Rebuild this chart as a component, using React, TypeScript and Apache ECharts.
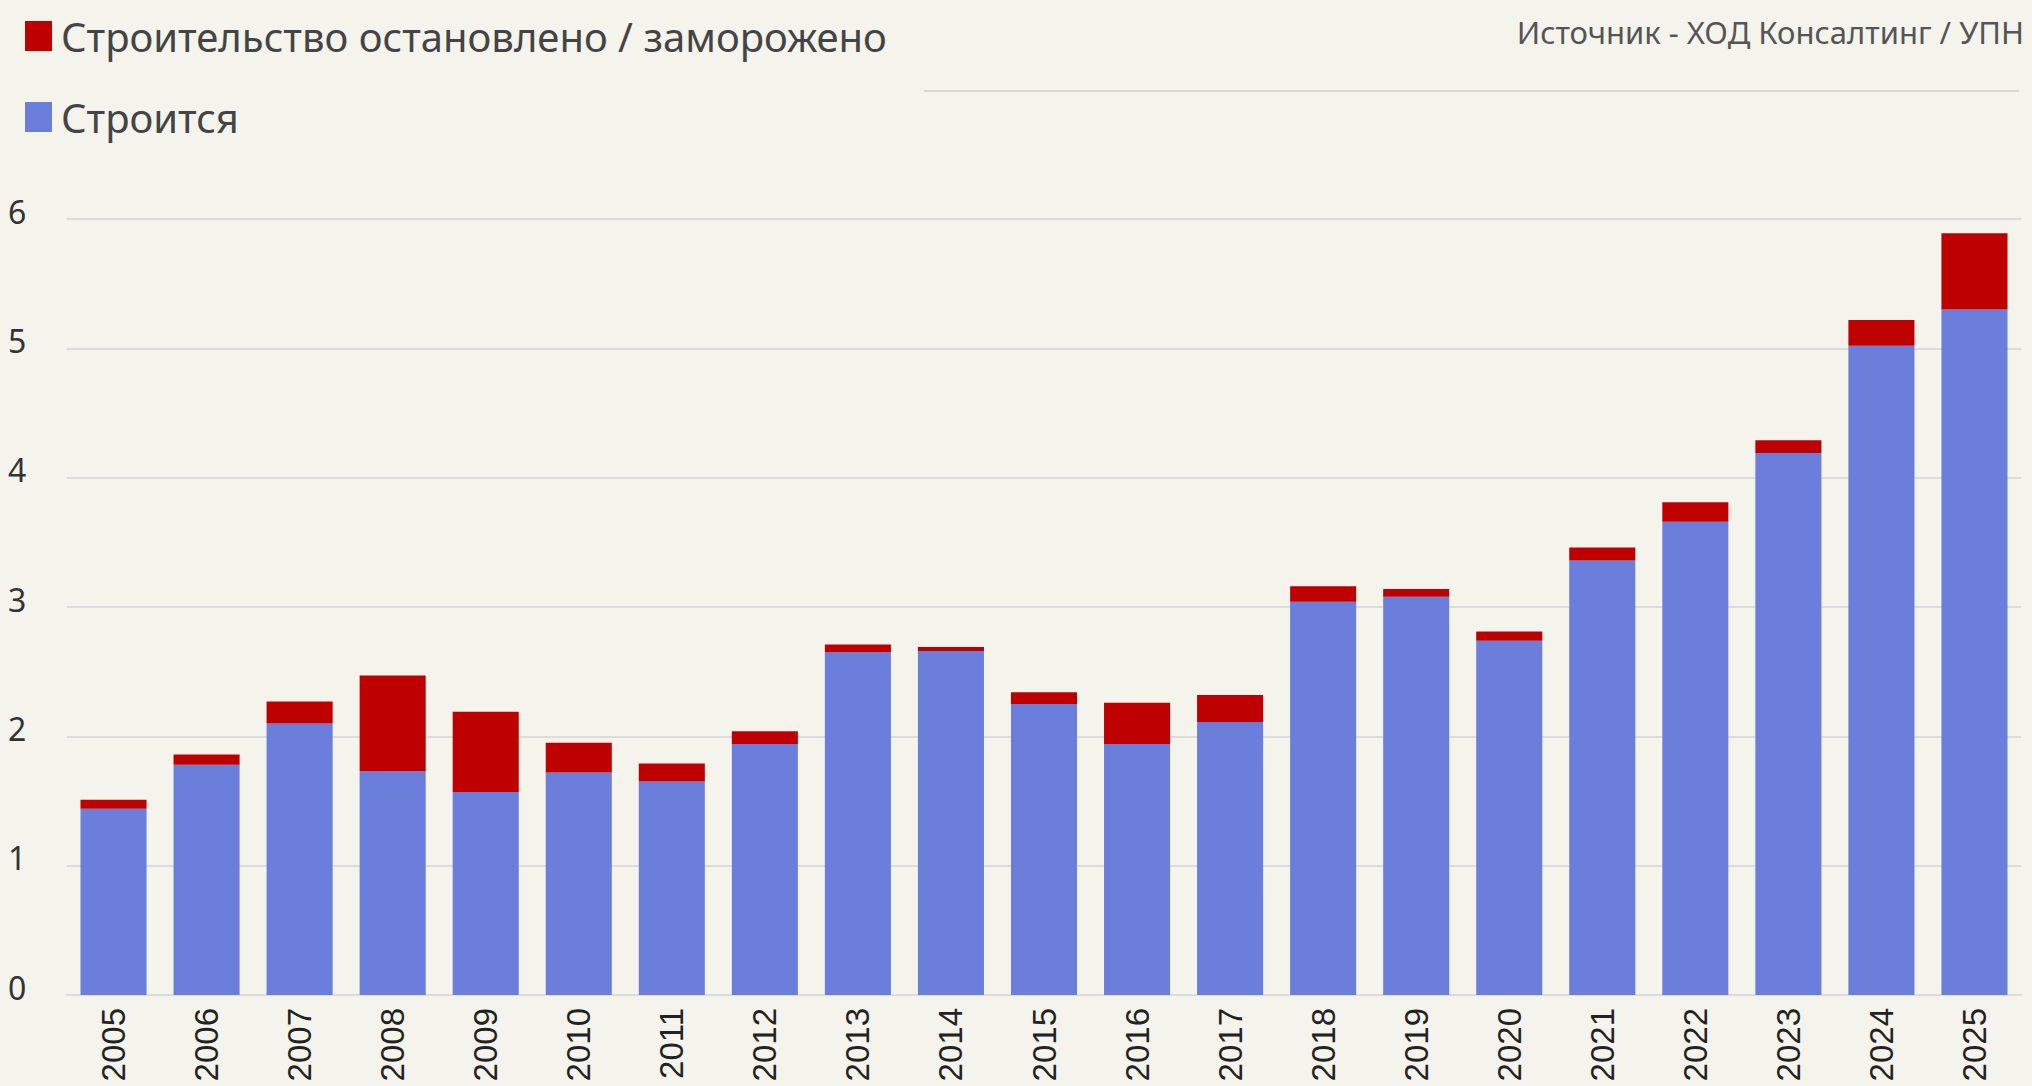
import React, { useEffect, useRef } from "react";
import * as echarts from "echarts";

const years = ["2005","2006","2007","2008","2009","2010","2011","2012","2013","2014","2015","2016","2017","2018","2019","2020","2021","2022","2023","2024","2025"];
const building = [1.44,1.78,2.10,1.73,1.57,1.72,1.65,1.94,2.65,2.66,2.25,1.94,2.11,3.04,3.08,2.74,3.36,3.66,4.19,5.02,5.30];
const frozen = [0.07,0.08,0.17,0.74,0.62,0.23,0.14,0.10,0.06,0.03,0.09,0.32,0.21,0.12,0.06,0.07,0.10,0.15,0.10,0.20,0.59];
const seriesNames = ["Строительство остановлено / заморожено", "Строится"];
const sourceText = "Источник - ХОД Консалтинг / УПН";

export default function App() {
  const ref = useRef<HTMLDivElement>(null);
  useEffect(() => {
    document.body.style.margin = "0";
    const chart = echarts.init(ref.current!, null, { renderer: "svg" });
    chart.setOption({
      animation: false,
      backgroundColor: "#f4f4ec",
      textStyle: { fontFamily: "Noto Sans" },
      legend: {
        orient: "vertical",
        left: 20,
        top: 11,
        itemWidth: 27,
        itemHeight: 30,
        itemGap: 41,
        icon: "rect",
        data: [seriesNames[0], seriesNames[1]],
        textStyle: { fontSize: 40, color: "#444", fontFamily: "Noto Sans", padding: [0, 0, 0, 4] },
      },
      graphic: [
        {
          type: "text",
          right: 8,
          top: 16,
          style: { text: sourceText, fontSize: 31, fill: "#555", fontFamily: "Noto Sans" },
        },
        {
          type: "line",
          shape: { x1: 924, y1: 91, x2: 2019, y2: 91 },
          style: { stroke: "#d8d8d2", lineWidth: 2 },
        },
      ],
      grid: { left: 67, right: 11, top: 219, bottom: 91, containLabel: false },
      xAxis: {
        type: "category",
        data: years,
        axisLine: { show: true, lineStyle: { color: "#dcdcdc", width: 2 } },
        axisTick: { show: false },
        axisLabel: { rotate: 90, fontSize: 33, color: "#222", fontFamily: "Liberation Sans", margin: 13 },
      },
      yAxis: {
        type: "value",
        min: 0,
        max: 6,
        interval: 1,
        axisLine: { show: false },
        axisTick: { show: false },
        splitLine: { lineStyle: { color: "#dcdcdc", width: 2 } },
        axisLabel: { fontSize: 32, color: "#333", align: "left", margin: 59, fontFamily: "Noto Sans", verticalAlign: "bottom", lineHeight: 16 },
      },
      series: [
        {
          name: seriesNames[1],
          type: "bar",
          stack: "total",
          data: building,
          barCategoryGap: "29%",
          itemStyle: { color: "#6b7edb" },
        },
        {
          name: seriesNames[0],
          type: "bar",
          stack: "total",
          data: frozen,
          itemStyle: { color: "#bf0000" },
        },
      ],
    });
    return () => chart.dispose();
  }, []);
  return <div ref={ref} style={{ position: "fixed", left: 0, top: 0, width: 2032, height: 1086 }} />;
}
